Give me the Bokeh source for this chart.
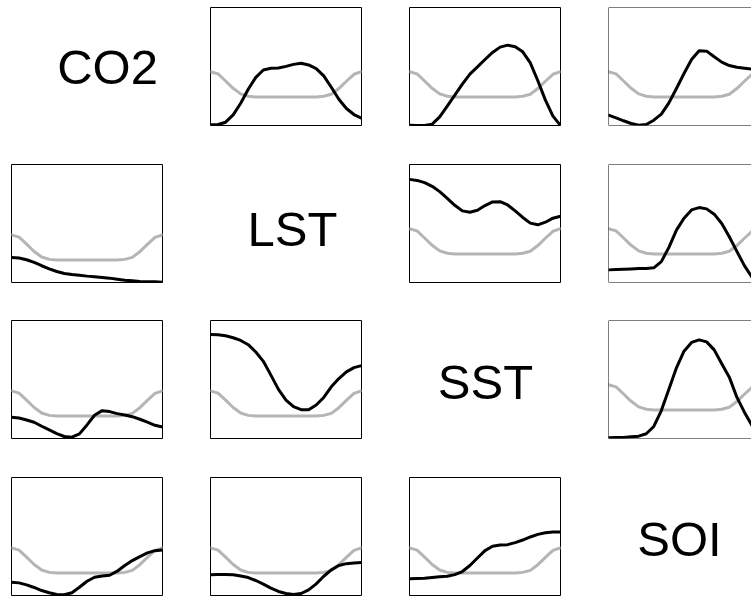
from bokeh.plotting import figure
from bokeh.layouts import column, row
from bokeh.models import Range1d, Span
from bokeh.core.properties import value
from bokeh.embed import file_html
from bokeh.resources import INLINE

# ---------------- data (frame-relative units) ----------------
variables = ["CO2", "LST", "SST", "SOI"]

x_grid = [0.00, 0.05, 0.10, 0.15, 0.20, 0.25, 0.30, 0.35, 0.40, 0.45, 0.50,
          0.55, 0.60, 0.65, 0.70, 0.75, 0.80, 0.85, 0.90, 0.95, 1.00]

# grey reference curve, above the diagonal and below it
gray_upper = [0.456, 0.437, 0.377, 0.315, 0.268, 0.248, 0.242, 0.242, 0.242, 0.242, 0.242,
              0.242, 0.242, 0.242, 0.242, 0.248, 0.265, 0.313, 0.375, 0.434, 0.456]
gray_lower = [0.404, 0.385, 0.325, 0.263, 0.216, 0.196, 0.190, 0.190, 0.190, 0.190, 0.190,
              0.190, 0.190, 0.190, 0.190, 0.196, 0.213, 0.261, 0.323, 0.382, 0.404]

# black curves, named row_col
co2_lst = [0.006, 0.008, 0.028, 0.090, 0.189, 0.307, 0.408, 0.470, 0.485, 0.487, 0.501,
           0.518, 0.527, 0.513, 0.482, 0.420, 0.324, 0.223, 0.144, 0.093, 0.062]
co2_sst = [0.003, 0.000, 0.000, 0.011, 0.073, 0.164, 0.257, 0.350, 0.435, 0.497, 0.559,
           0.619, 0.664, 0.681, 0.667, 0.624, 0.531, 0.379, 0.215, 0.079, 0.000]
co2_soi = [0.088, 0.065, 0.040, 0.017, 0.003, 0.008, 0.045, 0.096, 0.192, 0.314, 0.441,
           0.559, 0.633, 0.630, 0.582, 0.537, 0.508, 0.494, 0.486, 0.477, 0.469]
lst_co2 = [0.212, 0.207, 0.193, 0.170, 0.142, 0.116, 0.093, 0.076, 0.068, 0.062, 0.054,
           0.048, 0.042, 0.037, 0.028, 0.020, 0.014, 0.008, 0.006, 0.006, 0.003]
lst_sst = [0.874, 0.865, 0.846, 0.815, 0.770, 0.713, 0.654, 0.607, 0.596, 0.612, 0.652,
           0.683, 0.685, 0.657, 0.607, 0.551, 0.503, 0.489, 0.511, 0.545, 0.562]
lst_soi = [0.107, 0.110, 0.112, 0.115, 0.118, 0.118, 0.124, 0.177, 0.298, 0.444, 0.545,
           0.615, 0.635, 0.624, 0.579, 0.500, 0.388, 0.264, 0.143, 0.045, 0.000]
sst_co2 = [0.180, 0.174, 0.157, 0.138, 0.104, 0.073, 0.042, 0.017, 0.011, 0.039, 0.115,
           0.197, 0.236, 0.228, 0.211, 0.199, 0.185, 0.163, 0.138, 0.112, 0.098]
sst_lst = [0.882, 0.879, 0.871, 0.854, 0.831, 0.795, 0.733, 0.654, 0.537, 0.416, 0.326,
           0.270, 0.244, 0.244, 0.284, 0.348, 0.438, 0.508, 0.565, 0.601, 0.618]
sst_soi = [0.006, 0.008, 0.008, 0.014, 0.020, 0.040, 0.102, 0.237, 0.418, 0.599, 0.740,
           0.814, 0.836, 0.819, 0.751, 0.633, 0.520, 0.350, 0.223, 0.110, 0.025]
soi_co2 = [0.113, 0.107, 0.090, 0.068, 0.042, 0.023, 0.008, 0.006, 0.023, 0.070, 0.121,
           0.155, 0.166, 0.172, 0.206, 0.254, 0.296, 0.330, 0.361, 0.380, 0.386]
soi_lst = [0.175, 0.177, 0.177, 0.175, 0.166, 0.152, 0.127, 0.096, 0.062, 0.034, 0.017,
           0.008, 0.017, 0.048, 0.099, 0.163, 0.217, 0.254, 0.270, 0.276, 0.279]
soi_sst = [0.141, 0.144, 0.146, 0.152, 0.158, 0.163, 0.177, 0.203, 0.254, 0.318, 0.380,
           0.417, 0.428, 0.431, 0.448, 0.470, 0.496, 0.518, 0.532, 0.538, 0.538]

curves = {
    (0, 1): co2_lst, (0, 2): co2_sst, (0, 3): co2_soi,
    (1, 0): lst_co2, (1, 2): lst_sst, (1, 3): lst_soi,
    (2, 0): sst_co2, (2, 1): sst_lst, (2, 3): sst_soi,
    (3, 0): soi_co2, (3, 1): soi_lst, (3, 2): soi_sst,
}

# ---------------- layout ----------------
FRAME_W = 151
FRAME_H = 118
col_widths = [199, 199, 199, 154]
row_heights = [157, 157, 157, 126]
row_tops = [7, 7, 6, 6]
BORDER_LEFT = 11

# label placement inside the diagonal frames (fractions of the frame)
label_pos = [(0.636, 0.492), (0.543, 0.450), (0.503, 0.476), (0.470, 0.476)]

rows = []
for i in range(4):
    figs = []
    for j in range(4):
        w = col_widths[j]
        h = row_heights[i]
        right = w - BORDER_LEFT - FRAME_W
        clipped = right < 0
        frame_w = FRAME_W if not clipped else w - BORDER_LEFT
        xmax = frame_w / FRAME_W
        bottom = h - row_tops[i] - FRAME_H
        p = figure(width=w, height=h, x_range=Range1d(0, xmax), y_range=Range1d(0, 1),
                   toolbar_location=None, tools="", output_backend="svg",
                   x_axis_location=None, y_axis_location=None,
                   min_border_left=BORDER_LEFT, min_border_right=max(right, 0),
                   min_border_top=row_tops[i], min_border_bottom=bottom,
                   background_fill_color="white", border_fill_color="white")
        p.xgrid.visible = False
        p.ygrid.visible = False
        if i == j:
            p.outline_line_color = None
            lx, ly = label_pos[i]
            p.text(x=[lx], y=[ly], text=[variables[i]],
                   text_font=value("Liberation Sans"), text_font_size="49px",
                   text_align="center", text_baseline="alphabetic", text_color="black")
        else:
            if clipped:
                p.outline_line_color = None
                for loc, dim in [(0, "height"), (0, "width"), (1, "width")]:
                    p.add_layout(Span(location=loc, dimension=dim,
                                      line_color="black", line_width=1))
            else:
                p.outline_line_color = "black"
                p.outline_line_width = 1
            gray = gray_upper if j > i else gray_lower
            p.line(x_grid, gray, line_color="#b5b5b5", line_width=3, line_join="round",
                   line_cap="round")
            p.line(x_grid, curves[(i, j)], line_color="black", line_width=3,
                   line_join="round", line_cap="round")
        figs.append(p)
    rows.append(row(*figs, spacing=0))

layout = column(*rows, spacing=0)

open("out.html", "w").write(file_html(layout, INLINE))
